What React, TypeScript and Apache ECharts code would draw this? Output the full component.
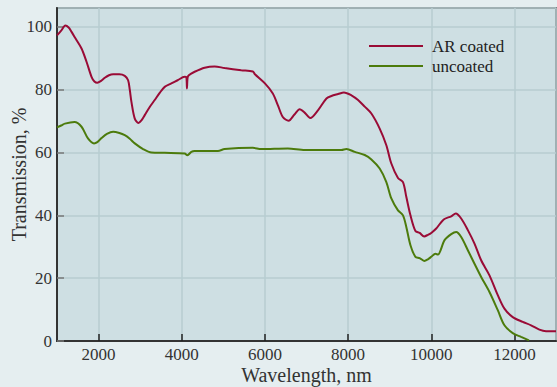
import React, { useEffect, useRef } from "react";
import * as echarts from "echarts";

const arWavelength = [1000, 1100, 1200, 1280, 1350, 1450, 1590, 1710, 1830, 1900, 1970, 2060, 2150, 2250, 2350, 2500, 2630, 2710, 2750, 2790, 2870, 2960, 3030, 3110, 3230, 3350, 3470, 3590, 3750, 3900, 4070, 4110, 4125, 4140, 4170, 4310, 4550, 4790, 5030, 5430, 5710, 5760, 6000, 6190, 6310, 6430, 6570, 6710, 6835, 6955, 7090, 7280, 7480, 7600, 7760, 7900, 8080, 8240, 8400, 8560, 8760, 8920, 9040, 9200, 9320, 9400, 9500, 9620, 9720, 9830, 9920, 10000, 10120, 10300, 10480, 10590, 10720, 10880, 11040, 11200, 11400, 11600, 11760, 11960, 12200, 12400, 12600, 12760, 13000];
const arTransmission = [97.3, 98.8, 100.4, 99.8, 98.4, 96.2, 93.1, 88.9, 84.1, 82.6, 82.2, 82.8, 83.8, 84.6, 84.9, 84.9, 84.4, 83.0, 80.0, 76.1, 70.8, 69.4, 70.2, 71.9, 74.5, 76.7, 79.0, 80.9, 82.0, 83.0, 84.1, 84.0, 80.4, 83.8, 84.6, 85.7, 87.0, 87.4, 86.9, 86.2, 85.8, 84.9, 82.0, 78.8, 75.1, 71.3, 70.1, 72.1, 73.8, 72.7, 71.0, 73.5, 77.2, 78.0, 78.6, 79.1, 78.2, 76.7, 74.6, 72.4, 67.6, 62.3, 56.5, 51.9, 50.6, 45.9, 40.0, 35.0, 34.4, 33.3, 33.8, 34.4, 35.8, 38.7, 39.7, 40.6, 39.0, 35.3, 31.0, 25.7, 20.9, 14.6, 10.3, 7.6, 6.1, 5.0, 3.6, 3.1, 3.1];

const unWavelength = [1000, 1100, 1190, 1420, 1590, 1745, 1890, 1970, 2070, 2200, 2350, 2500, 2630, 2750, 2870, 3070, 3270, 3590, 4070, 4135, 4230, 4310, 4870, 5030, 5710, 5910, 6550, 6960, 7840, 7960, 8160, 8400, 8560, 8760, 8920, 9040, 9200, 9320, 9400, 9500, 9620, 9720, 9830, 9920, 10000, 10100, 10160, 10320, 10480, 10600, 10720, 10880, 11040, 11200, 11400, 11600, 11760, 11960, 12160, 12350];
const unTransmission = [68.0, 68.6, 69.2, 69.7, 68.2, 64.5, 62.9, 63.3, 64.6, 65.9, 66.6, 66.2, 65.5, 64.4, 62.9, 61.1, 60.0, 59.9, 59.7, 59.1, 60.2, 60.5, 60.5, 61.1, 61.5, 61.1, 61.3, 60.8, 60.8, 61.1, 60.2, 59.2, 57.8, 54.9, 50.6, 45.4, 41.6, 40.0, 36.3, 30.5, 26.8, 26.4, 25.5, 26.0, 26.8, 27.8, 27.5, 32.1, 34.0, 34.7, 33.1, 28.9, 24.6, 20.4, 15.6, 9.8, 5.0, 2.5, 1.3, 0.2];

const seriesNames = ["AR coated", "uncoated"];
const seriesColors = ["#9a0b36", "#4c7b0c"];

const FONT = "'Liberation Serif', 'Times New Roman', serif";

export default function App() {
  const ref = useRef<HTMLDivElement>(null);
  useEffect(() => {
    if (!ref.current) return;
    const chart = echarts.init(ref.current, null, { renderer: "svg" });
    const zip = (xs: number[], ys: number[]) => xs.map((x, i) => [x, ys[i]]);
    chart.setOption({
      animation: false,
      backgroundColor: "#e5eef0",
      textStyle: { fontFamily: FONT },
      grid: {
        left: 57,
        top: 8,
        width: 499,
        height: 333,
        containLabel: false,
        outerBoundsMode: "none",
        show: true,
        backgroundColor: "#cedfe3",
        borderColor: "#333",
        borderWidth: 1.5,
      },
      legend: {
        orient: "vertical",
        left: 369,
        top: 36,
        padding: 0,
        icon: "rect",
        itemWidth: 54,
        itemHeight: 2,
        itemGap: 0,
        data: seriesNames,
        textStyle: { fontFamily: FONT, fontSize: 17, color: "#222", lineHeight: 20, padding: [0, 0, 0, 4] },
      },
      xAxis: {
        type: "value",
        min: 1000,
        max: 13000,
        splitNumber: 6,
        minInterval: 2000,
        maxInterval: 2000,
        name: "Wavelength, nm",
        nameLocation: "middle",
        nameGap: 24,
        nameMoveOverlap: false,
        nameTextStyle: { fontFamily: FONT, fontSize: 20, color: "#333" },
        axisLine: { show: true, lineStyle: { color: "#333", width: 2 } },
        axisTick: { show: true, inside: true, length: 7, lineStyle: { color: "#222", width: 1.5 } },
        axisLabel: {
          showMinLabel: false,
          showMaxLabel: false,
          margin: 5,
          fontFamily: FONT,
          fontSize: 17,
          color: "#333",
          formatter: (v: number) => (v % 2000 === 0 ? String(v) : ""),
        },
        splitLine: { show: true, lineStyle: { color: "#b7ccd1", width: 1.5 } },
      },
      yAxis: {
        type: "value",
        min: 0,
        max: 106,
        interval: 20,
        name: "Transmission, %",
        nameLocation: "middle",
        nameGap: 28,
        nameMoveOverlap: false,
        nameTextStyle: { fontFamily: FONT, fontSize: 20, color: "#333" },
        axisLine: { show: true, lineStyle: { color: "#333", width: 2 } },
        axisTick: { show: true, inside: true, length: 7, lineStyle: { color: "#777", width: 1.5 } },
        axisLabel: {
          showMaxLabel: false,
          margin: 5,
          fontFamily: FONT,
          fontSize: 17,
          color: "#333",
          formatter: (v: number) => (v % 20 === 0 ? String(v) : ""),
        },
        splitLine: { show: true, lineStyle: { color: "#b7ccd1", width: 1.5 } },
      },
      series: [
        {
          name: seriesNames[0],
          type: "line",
          data: zip(arWavelength, arTransmission),
          symbol: "none",
          smooth: 0.3,
          color: seriesColors[0],
          lineStyle: { color: seriesColors[0], width: 2 },
        },
        {
          name: seriesNames[1],
          type: "line",
          data: zip(unWavelength, unTransmission),
          symbol: "none",
          smooth: 0.3,
          color: seriesColors[1],
          lineStyle: { color: seriesColors[1], width: 2 },
        },
      ],
    });
    return () => chart.dispose();
  }, []);
  return (
    <div
      ref={ref}
      style={{ position: "fixed", left: 0, top: 0, width: 557, height: 387 }}
    />
  );
}
